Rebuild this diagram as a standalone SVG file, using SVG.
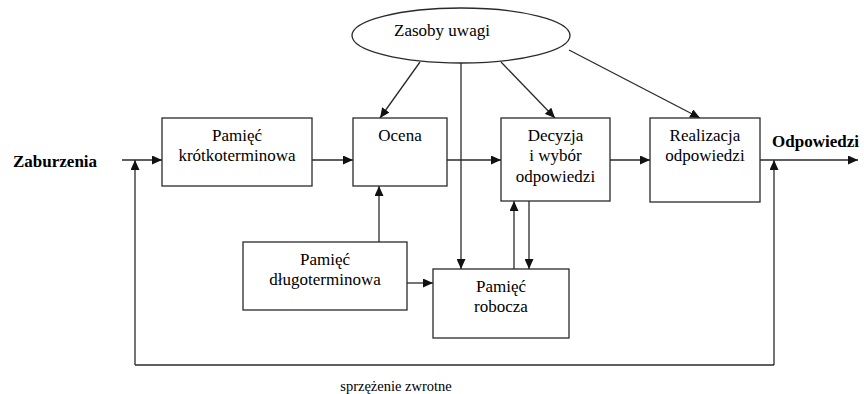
<svg xmlns="http://www.w3.org/2000/svg" width="864" height="394" viewBox="0 0 864 394">
<style>
.box{fill:#fff;stroke:#2a2a2a;stroke-width:1.3}
text{font-family:'Liberation Serif','DejaVu Serif',serif;fill:#000}
.t{font-size:17px;text-anchor:middle}
.b{font-size:17px;font-weight:bold}
.s{font-size:14.5px;text-anchor:middle}
.c{fill:none;stroke:#2a2a2a;stroke-width:1.3}
.a{marker-end:url(#ah)}
</style>
<defs>
<marker id="ah" markerUnits="userSpaceOnUse" markerWidth="10" markerHeight="9" refX="10" refY="4.5" orient="auto">
<path d="M0,0 L10,4.5 L0,9 z" fill="#111"/>
</marker>
</defs>
<rect width="864" height="394" fill="#fff"/>

<g id="connectors">
<line class="c a" x1="122" y1="160" x2="162" y2="160"/>
<line class="c a" x1="312" y1="160" x2="353" y2="160"/>
<line class="c a" x1="447" y1="160" x2="501" y2="160"/>
<line class="c a" x1="610" y1="160" x2="650" y2="160"/>
<line class="c a" x1="760" y1="160" x2="858" y2="160"/>
<line class="c a" x1="420" y1="62" x2="380" y2="118"/>
<line class="c a" x1="501" y1="62" x2="555" y2="118"/>
<line class="c a" x1="569" y1="50" x2="700" y2="118"/>
<line class="c a" x1="461" y1="63" x2="461" y2="269"/>
<line class="c a" x1="379" y1="242" x2="379" y2="186"/>
<line class="c a" x1="407" y1="283" x2="433" y2="283"/>
<line class="c a" x1="514" y1="269" x2="514" y2="201"/>
<line class="c a" x1="529" y1="201" x2="529" y2="269"/>
<line class="c" x1="135" y1="365" x2="774" y2="365"/>
<line class="c a" x1="135" y1="365" x2="135" y2="160"/>
<line class="c a" x1="774" y1="365" x2="774" y2="160"/>
</g>

<g id="zasoby">
<ellipse class="box" cx="461" cy="35.5" rx="109" ry="27.5"/>
<text class="t" x="442" y="36" font-family="Liberation Serif, serif">Zasoby uwagi</text>
</g>
<g id="krotko">
<rect class="box" x="162" y="118" width="150" height="68"/>
<text class="t" x="237" y="140.5">Pamięć</text>
<text class="t" x="237" y="161">krótkoterminowa</text>
</g>
<g id="ocena">
<rect class="box" x="353" y="118" width="94" height="68"/>
<text class="t" x="400" y="140.5">Ocena</text>
</g>
<g id="decyzja">
<rect class="box" x="501" y="118" width="109" height="83"/>
<text class="t" x="555.5" y="140.5">Decyzja</text>
<text class="t" x="555.5" y="161">i wybór</text>
<text class="t" x="555.5" y="181.5">odpowiedzi</text>
</g>
<g id="realizacja">
<rect class="box" x="650" y="118" width="110" height="84"/>
<text class="t" x="705" y="140.5">Realizacja</text>
<text class="t" x="705" y="161">odpowiedzi</text>
</g>
<g id="dlugo">
<rect class="box" x="243" y="242" width="164" height="68"/>
<text class="t" x="325" y="265">Pamięć</text>
<text class="t" x="325" y="285">długoterminowa</text>
</g>
<g id="robocza">
<rect class="box" x="433" y="269" width="136" height="69"/>
<text class="t" x="501" y="292">Pamięć</text>
<text class="t" x="501" y="312">robocza</text>
</g>
<g id="labels">
<text class="b" x="13" y="167">Zaburzenia</text>
<text class="b" x="772" y="147">Odpowiedzi</text>
<text class="s" x="396" y="391">sprzężenie zwrotne</text>
</g>
</svg>
